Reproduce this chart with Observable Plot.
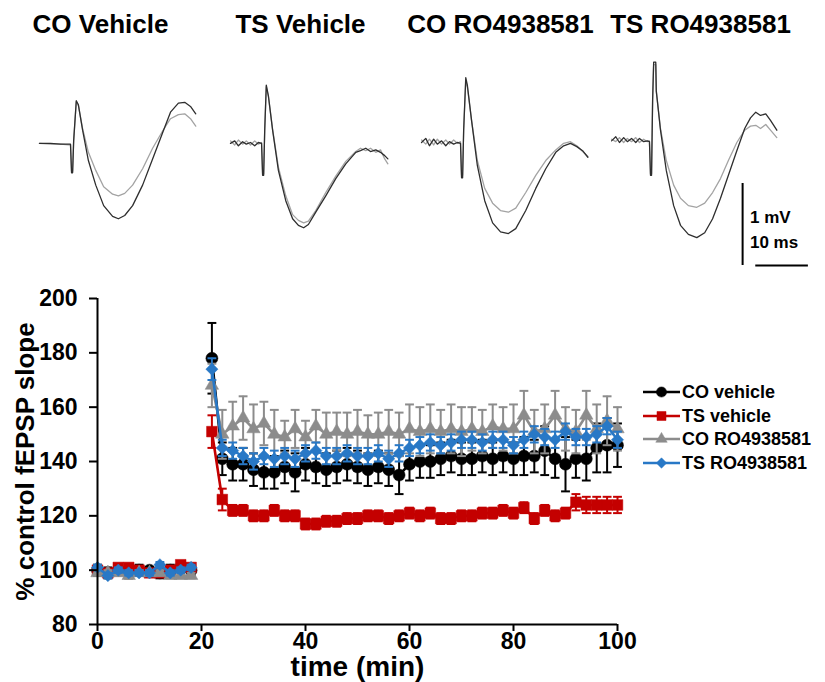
<!DOCTYPE html>
<html><head><meta charset="utf-8">
<script src="https://cdn.jsdelivr.net/npm/d3@7"></script>
<script src="https://cdn.jsdelivr.net/npm/@observablehq/plot@0.6"></script>
<style>
body{margin:0;background:#fff;font-family:"Liberation Sans",Arial,sans-serif;}
#wrap{position:relative;width:825px;height:682px;overflow:hidden;background:#fff;}
#wrap > svg{display:block;}
#legend{position:absolute;left:643px;top:380px;font-weight:bold;font-size:18px;color:#000;line-height:1;}
.row{display:flex;align-items:center;height:23.7px;white-space:nowrap;}
.row svg{margin-right:2px;display:block;}
</style></head><body><div id="wrap"><div id="legend"></div></div>
<script>
// ---------- top: example traces (time in ms, amplitude in mV) ----------
const panels = ["CO Vehicle", "TS Vehicle", "CO RO4938581", "TS RO4938581"];

const coVehicleDark = [[7.4,-0.01],[9.5,-0.01],[11.4,-0.02],[12.9,-0.02],[13.3,-0.02],[13.5,-0.37],[13.7,-0.37],[13.9,0.02],[14.4,0.51],[14.8,0.46],[15.6,0.15],[16.7,-0.22],[18.1,-0.52],[19.6,-0.77],[21.3,-0.90],[22.4,-0.93],[23.6,-0.89],[25.1,-0.77],[27.0,-0.52],[28.9,-0.20],[30.8,0.12],[32.3,0.37],[33.8,0.48],[35.0,0.49],[36.1,0.44],[37.1,0.35]];
const coVehicleLight = [[7.4,-0.01],[9.5,-0.02],[11.4,-0.02],[12.9,-0.03],[13.3,-0.03],[13.5,-0.35],[13.7,-0.35],[13.9,0.02],[14.4,0.50],[14.8,0.45],[15.6,0.17],[16.7,-0.12],[18.1,-0.34],[19.6,-0.54],[21.3,-0.63],[22.4,-0.65],[23.6,-0.62],[25.1,-0.52],[27.0,-0.32],[28.9,-0.07],[30.8,0.14],[32.3,0.29],[33.8,0.34],[35.0,0.35],[36.1,0.29],[37.1,0.20]];
const tsVehicleDark = [[5.7,-0.01],[6.5,0.02],[7.2,-0.04],[8.0,0.01],[8.7,-0.02],[9.5,0],[10.3,-0.04],[11.0,0],[11.6,-0.01],[11.8,-0.40],[12.0,-0.40],[12.2,0.15],[12.5,0.70],[12.9,0.57],[13.7,0.15],[14.8,-0.34],[16.2,-0.71],[17.5,-0.93],[18.6,-1.01],[19.6,-1.04],[20.5,-1.00],[21.9,-0.85],[23.8,-0.65],[25.7,-0.44],[27.6,-0.26],[29.5,-0.12],[30.4,-0.10],[31.4,-0.07],[32.3,-0.11],[33.3,-0.09],[34.2,-0.12],[35.0,-0.16],[35.6,-0.20]];
const tsVehicleLight = [[5.7,0.02],[6.5,-0.03],[7.2,0.03],[8.0,-0.02],[8.7,0.02],[9.5,-0.03],[10.3,0.02],[11.0,-0.02],[11.6,0],[11.8,-0.38],[12.0,-0.38],[12.2,0.15],[12.5,0.68],[12.9,0.56],[13.7,0.16],[14.8,-0.30],[16.2,-0.65],[17.5,-0.88],[18.6,-0.95],[19.6,-0.98],[20.5,-0.96],[21.9,-0.83],[23.8,-0.61],[25.7,-0.41],[27.6,-0.23],[29.5,-0.11],[30.4,-0.07],[31.4,-0.10],[32.3,-0.07],[33.3,-0.12],[34.2,-0.09],[35.0,-0.20],[35.6,-0.26]];
const coRODark = [[4.0,0],[4.8,0.05],[5.5,-0.04],[6.3,0.04],[7.0,-0.02],[7.8,0.02],[8.6,-0.04],[9.3,0.01],[10.1,-0.02],[10.8,0],[11.4,-0.01],[11.6,-0.43],[11.8,-0.43],[12.0,0.15],[12.4,0.79],[12.7,0.70],[13.5,0.27],[14.6,-0.28],[16.0,-0.71],[17.5,-0.98],[19.0,-1.09],[20.5,-1.11],[21.9,-1.05],[23.8,-0.83],[25.7,-0.56],[27.6,-0.32],[29.5,-0.12],[31.0,-0.04],[32.3,-0.01],[33.5,-0.05],[34.6,-0.10],[35.6,-0.18]];
const coROLight = [[4.0,0.03],[4.8,-0.02],[5.5,0.04],[6.3,-0.03],[7.0,0.04],[7.8,-0.02],[8.6,0.03],[9.3,-0.02],[10.1,0.03],[10.8,-0.01],[11.4,0.01],[11.6,-0.40],[11.8,-0.40],[12.0,0.15],[12.4,0.75],[12.7,0.68],[13.5,0.27],[14.6,-0.22],[16.0,-0.56],[17.5,-0.74],[19.0,-0.83],[20.5,-0.85],[21.9,-0.80],[23.8,-0.61],[25.7,-0.40],[27.6,-0.22],[29.5,-0.09],[31.0,-0.01],[32.3,0.01],[33.5,-0.04],[34.6,-0.11],[35.6,-0.17]];
const tsRODark = [[2.1,0.02],[2.9,0.07],[3.6,0],[4.4,0.06],[5.1,0.01],[5.9,0.05],[6.7,0],[7.4,0.05],[8.2,0.01],[8.9,0.02],[9.3,0.01],[9.5,-0.40],[9.7,-0.40],[9.9,0.51],[10.1,0.98],[10.5,0.98],[10.6,0.63],[11.4,0.15],[12.5,-0.34],[13.9,-0.77],[15.2,-1.01],[16.7,-1.12],[18.3,-1.16],[19.8,-1.10],[21.3,-0.93],[22.8,-0.68],[24.3,-0.40],[25.9,-0.10],[27.4,0.17],[28.5,0.30],[29.5,0.37],[30.4,0.33],[31.4,0.35],[32.3,0.27],[33.5,0.15]];
const tsROLight = [[2.1,0.04],[2.9,0.01],[3.6,0.06],[4.4,0.0],[5.1,0.05],[5.9,0.01],[6.7,0.06],[7.4,0.0],[8.2,0.04],[8.9,0.01],[9.3,0.02],[9.5,-0.38],[9.7,-0.38],[9.9,0.50],[10.1,0.95],[10.5,0.95],[10.6,0.62],[11.4,0.17],[12.5,-0.22],[13.9,-0.52],[15.2,-0.68],[16.7,-0.77],[18.3,-0.79],[19.8,-0.74],[21.3,-0.61],[22.8,-0.44],[24.3,-0.22],[25.9,0],[27.4,0.15],[28.5,0.20],[29.5,0.21],[30.4,0.17],[31.4,0.22],[32.3,0.15],[33.5,0.06]];

// scale bar: 1 mV, 10 ms
const scaleMv = 1;
const scaleMs = 10;

// ---------- bottom: LTP time course ----------
const seriesNames = ["CO vehicle", "TS vehicle", "CO RO4938581", "TS RO4938581"];
const timeBaseline = [0, 2, 4, 6, 8, 10, 12, 14, 16, 18];
const timePost = [22,24,26,28,30,32,34,36,38,40,42,44,46,48,50,52,54,56,58,60,62,64,66,68,70,72,74,76,78,80,82,84,86,88,90,92,94,96,98,100];

const coVehicleBase = [100,99,100,99,100,100,99,100,101,100];
const tsVehicleBase = [100,99,101,101,100,99,99,100,102,101];
const coROBase      = [99,99,99,98,99,99,99,98,98,98];
const tsROBase      = [101,98,100,99,99,99,102,99,100,101];
const coVehicleBaseErr = [2,2,1,2,2,1,2,2,1,2];
const tsVehicleBaseErr = [1,1,1,1,1,1,1,1,1,1];
const coROBaseErr      = [1,1,1,1,1,1,1,1,1,1];
const tsROBaseErr      = [1,1,1,1,1,1,1,1,1,1];

const coVehiclePost = [178,141,139,139,137,136,136,138,136,139,138,137,138,139,138,137,138,137,135,139,140,140,141,142,141,141,142,141,142,141,142,142,144,141,139,141,141,145,146,146];
const tsVehiclePost = [151,126,122,122,120,120,122,120,120,117,117,118,118,119,119,120,120,119,120,121,120,121,119,119,120,120,121,121,122,121,123,119,122,120,121,125,124,124,124,124];
const coROPost      = [168,150,153,156,152,154,150,149,152,149,153,150,151,150,151,150,150,151,150,152,151,152,151,152,151,152,151,153,152,152,157,151,152,157,152,151,157,152,155,152];
const tsROPost      = [174,145,144,142,140,142,141,142,141,143,144,142,142,143,142,142,143,141,143,145,146,147,146,147,148,148,147,148,148,146,148,150,149,148,151,149,149,150,153,148];

const coVehicleErr = [13,6,6,6,6,6,6,6,7,6,6,6,6,6,6,6,6,6,7,6,6,6,6,6,6,6,6,6,6,6,7,6,9,7,10,7,8,9,10,8];
const tsVehicleErr = [6,4,2,2,2,2,2,2,2,2,2,2,2,2,2,2,2,2,2,2,2,2,2,2,2,2,2,2,2,2,2,2,2,2,2,3,3,3,3,3];
const coROErr      = [8,9,9,8,9,8,9,6,7,6,6,8,7,8,8,7,8,8,8,9,9,9,8,9,9,8,8,8,8,9,9,8,9,9,8,8,9,9,9,8];
const tsROErr      = [4,3,3,3,3,3,3,3,3,3,3,3,3,3,3,3,3,3,3,3,3,3,3,3,3,3,3,3,3,3,3,3,3,3,3,3,3,3,3,3];

const xTicks = [0, 20, 40, 60, 80, 100];
const yTicks = [80, 100, 120, 140, 160, 180, 200];

// styles
const seriesColors = ["#000000", "#c40000", "#8c8c8c", "#2878c6"];
const seriesSymbols = ["circle", "square", "triangle", "diamond2"];
const seriesR = [6, 6, 5, 5.5];
const FONT = '"Liberation Sans", Arial, Helvetica, sans-serif';

// ---------- build trace table ----------
const traceSets = [
  [panels[0], "light", coVehicleLight], [panels[0], "dark", coVehicleDark],
  [panels[1], "light", tsVehicleLight], [panels[1], "dark", tsVehicleDark],
  [panels[2], "light", coROLight], [panels[2], "dark", coRODark],
  [panels[3], "light", tsROLight], [panels[3], "dark", tsRODark]
];
const traceRows = traceSets.flatMap(([panel, kind, pts]) =>
  pts.map(([t, v]) => ({panel, kind, key: panel + "|" + kind, t, v})));

const barPanel = panels[3];
const barX = 27;
const barTop = -0.5;
const scaleV = [{panel: barPanel, t: barX, v1: barTop, v2: barTop - scaleMv}];
const scaleH = [{panel: barPanel, v: barTop - scaleMv, t1: barX + 2.5, t2: barX + 2.5 + scaleMs}];
const scaleLabels = [
  {panel: barPanel, t: barX + 1.4, v: barTop - 0.42 * scaleMv, text: scaleMv + " mV"},
  {panel: barPanel, t: barX + 1.4, v: barTop - 0.72 * scaleMv, text: scaleMs + " ms"}
];

const topPlot = Plot.plot({
  width: 825, height: 280,
  marginTop: 40, marginBottom: 0, marginLeft: 0, marginRight: 25,
  style: {fontFamily: FONT, background: "#fff", color: "#000"},
  fx: {domain: panels, padding: 0, axis: null},
  x: {domain: [0, 38], axis: null},
  y: {domain: [-1.683, 1.244], axis: null},
  color: {domain: ["light", "dark"], range: ["#a3a3a3", "#2e2e2e"]},
  marks: [
    Plot.line(traceRows, {fx: "panel", x: "t", y: "v", z: "key", stroke: "kind", strokeWidth: 1.3}),
    Plot.ruleX(scaleV, {fx: "panel", x: "t", y1: "v1", y2: "v2", strokeWidth: 2, stroke: "#000"}),
    Plot.ruleY(scaleH, {fx: "panel", y: "v", x1: "t1", x2: "t2", strokeWidth: 2, stroke: "#000"}),
    Plot.text(scaleLabels, {fx: "panel", x: "t", y: "v", text: "text", textAnchor: "start", fontSize: 17, fontWeight: "bold", fill: "#000"}),
    Plot.text(panels, {fx: d => d, text: d => d, frameAnchor: "top", textAnchor: "middle", lineAnchor: "middle", dy: -16, fontSize: 26, fontWeight: "bold", fill: "#000"})
  ]
});

// ---------- build time-course table ----------
const baseSets = [coVehicleBase, tsVehicleBase, coROBase, tsROBase];
const baseErrSets = [coVehicleBaseErr, tsVehicleBaseErr, coROBaseErr, tsROBaseErr];
const postSets = [coVehiclePost, tsVehiclePost, coROPost, tsROPost];
const postErrSets = [coVehicleErr, tsVehicleErr, coROErr, tsROErr];

const rows = [];
seriesNames.forEach((name, i) => {
  timeBaseline.forEach((t, j) => rows.push({series: name, phase: name + "|base", t, v: baseSets[i][j], e: baseErrSets[i][j]}));
  timePost.forEach((t, j) => rows.push({series: name, phase: name + "|post", t, v: postSets[i][j], e: postErrSets[i][j]}));
});

const capSymbol = {draw(ctx, size) { const w = Math.sqrt(size) / 2; ctx.moveTo(-w, 0); ctx.lineTo(w, 0); }};

const seriesMarks = seriesNames.flatMap((name, i) => {
  const d = rows.filter(r => r.series === name);
  const c = seriesColors[i];
  return [
    Plot.ruleX(d, {x: "t", y1: r => r.v - r.e, y2: r => r.v + r.e, stroke: c, strokeWidth: 2}),
    Plot.dot(d, {x: "t", y: r => r.v + r.e, symbol: capSymbol, r: 5, stroke: c, fill: "none", strokeWidth: 2}),
    Plot.dot(d, {x: "t", y: r => r.v - r.e, symbol: capSymbol, r: 5, stroke: c, fill: "none", strokeWidth: 2}),
    Plot.line(d, {x: "t", y: "v", z: "phase", stroke: c, strokeWidth: 2.6}),
    Plot.dot(d, {x: "t", y: "v", symbol: seriesSymbols[i], r: seriesR[i], fill: c, stroke: c, strokeWidth: 0.5})
  ];
});

const bottomPlot = Plot.plot({
  width: 825, height: 402,
  marginTop: 18, marginBottom: 58, marginLeft: 97, marginRight: 208,
  style: {fontFamily: FONT, background: "#fff", color: "#000"},
  x: {domain: [0, 100]},
  y: {domain: [80, 200]},
  marks: [
    ...seriesMarks,
    Plot.axisY({ticks: yTicks, tickSize: 8, tickPadding: 12, fontSize: 23, fontWeight: "bold", label: null, strokeWidth: 2}),
    Plot.axisX({ticks: xTicks, tickSize: 7, tickPadding: 1, fontSize: 23, fontWeight: "bold", label: null, strokeWidth: 2}),
    Plot.ruleX([0], {strokeWidth: 2, stroke: "#000"}),
    Plot.ruleY([80], {strokeWidth: 2, stroke: "#000"}),
    Plot.text(["% control fEPSP slope"], {text: d => d, frameAnchor: "left", textAnchor: "middle", rotate: -90, dx: -72, lineAnchor: "middle", fontSize: 26, fontWeight: "bold", fill: "#000"}),
    Plot.text(["time (min)"], {text: d => d, frameAnchor: "bottom", textAnchor: "middle", lineAnchor: "middle", dy: 43, fontSize: 28, fontWeight: "bold", fill: "#000"})
  ]
});

const wrap = document.getElementById("wrap");
wrap.insertBefore(bottomPlot, wrap.firstChild);
wrap.insertBefore(topPlot, wrap.firstChild);

// ---------- legend ----------
const legend = document.getElementById("legend");
const symMap = {circle: d3.symbolCircle, square: d3.symbolSquare, triangle: d3.symbolTriangle, diamond2: d3.symbolDiamond2};
seriesNames.forEach((name, i) => {
  const row = document.createElement("div");
  row.className = "row";
  const svg = d3.create("svg").attr("width", 37).attr("height", 16);
  svg.append("line").attr("x1", 0).attr("x2", 37).attr("y1", 8).attr("y2", 8)
    .attr("stroke", seriesColors[i]).attr("stroke-width", 2.6);
  svg.append("path").attr("transform", "translate(18.5,8)")
    .attr("d", d3.symbol(symMap[seriesSymbols[i]], Math.PI * (seriesR[i] * 0.85) ** 2)())
    .attr("fill", seriesColors[i]).attr("stroke", seriesColors[i]).attr("stroke-width", 0.5);
  row.appendChild(svg.node());
  const span = document.createElement("span");
  span.textContent = name;
  row.appendChild(span);
  legend.appendChild(row);
});
</script>
</body></html>
